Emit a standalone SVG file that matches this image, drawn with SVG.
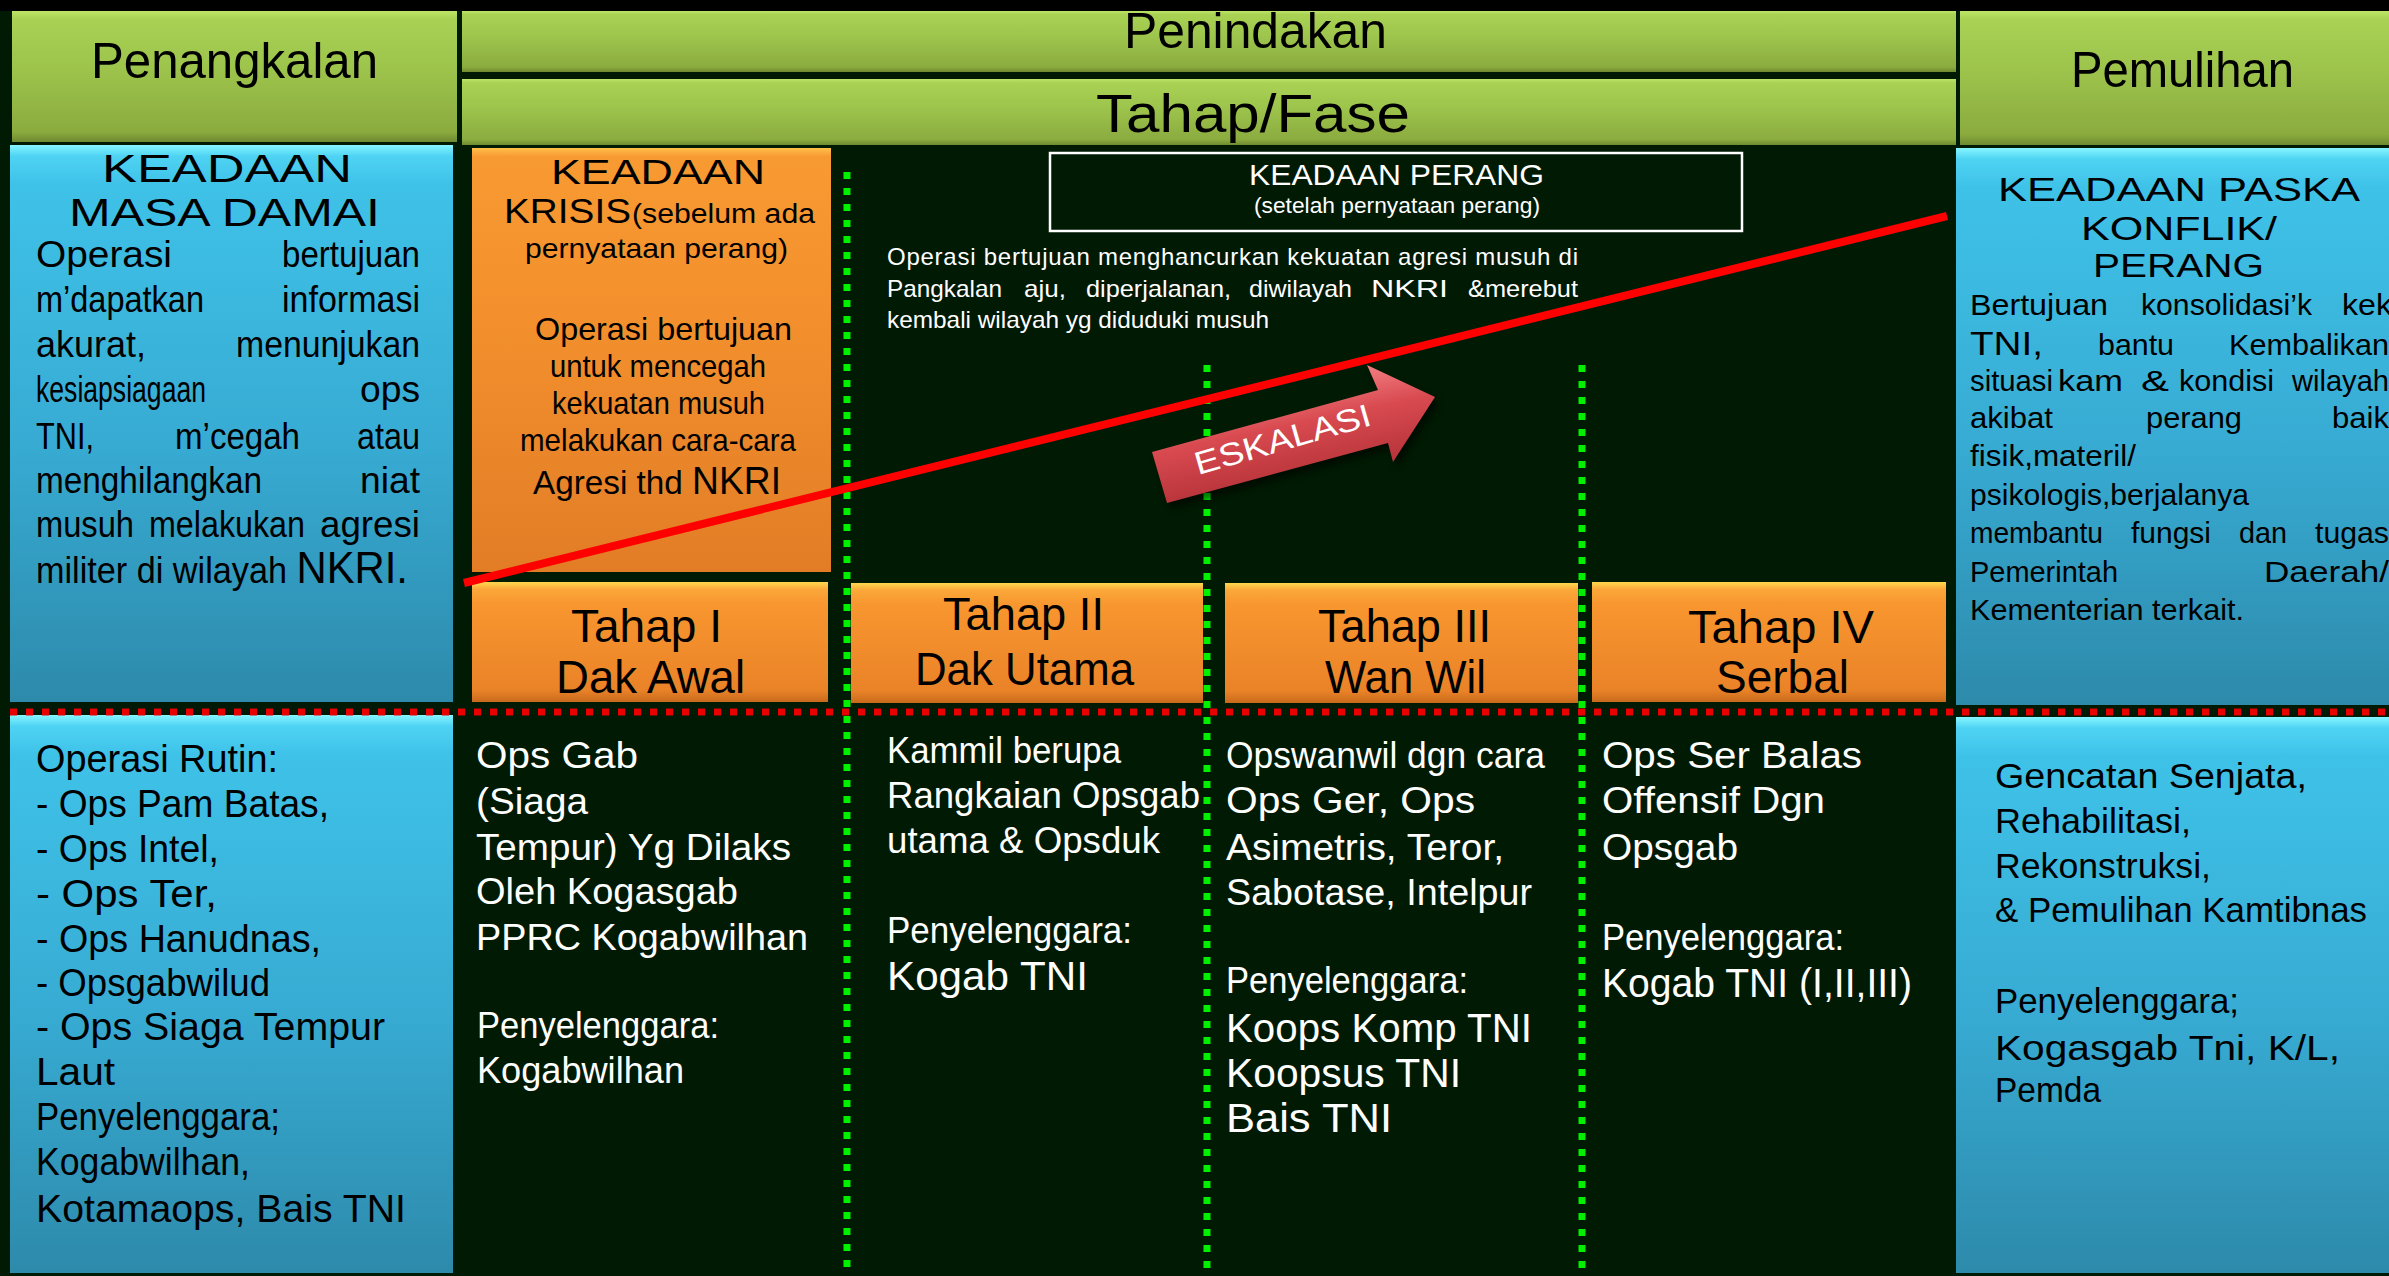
<svg xmlns="http://www.w3.org/2000/svg" width="2389" height="1276" viewBox="0 0 2389 1276">
<defs>
<style>
text{font-family:'Liberation Sans',Arial,sans-serif}
.k{fill:#000}
.w{fill:#fff}
.b36{font-size:36px}
.b30{font-size:30px}
.b38{font-size:38px}
.hd{font-size:50px}
.tp{font-size:46px}
</style>
<linearGradient id="gGreen" x1="0" y1="0" x2="0" y2="1">
<stop offset="0" stop-color="#bde466"/>
<stop offset="0.06" stop-color="#a9d254"/>
<stop offset="0.5" stop-color="#9bc14a"/>
<stop offset="0.92" stop-color="#8bab3f"/>
<stop offset="1" stop-color="#6f8a30"/>
</linearGradient>
<linearGradient id="gBlue" x1="0" y1="0" x2="0" y2="1">
<stop offset="0" stop-color="#86f6ff"/>
<stop offset="0.02" stop-color="#4fd3f3"/>
<stop offset="0.07" stop-color="#3fc2e8"/>
<stop offset="0.55" stop-color="#37aad2"/>
<stop offset="1" stop-color="#2d8aab"/>
</linearGradient>
<linearGradient id="gOrange" x1="0" y1="0" x2="0" y2="1">
<stop offset="0" stop-color="#ffd84e"/>
<stop offset="0.06" stop-color="#fba83a"/>
<stop offset="0.18" stop-color="#f8962f"/>
<stop offset="0.9" stop-color="#ea8328"/>
<stop offset="1" stop-color="#c86a1c"/>
</linearGradient>
<linearGradient id="gKrisis" x1="0" y1="0" x2="0" y2="1">
<stop offset="0" stop-color="#ffc04a"/>
<stop offset="0.02" stop-color="#f89a32"/>
<stop offset="0.4" stop-color="#f3902d"/>
<stop offset="1" stop-color="#e27d26"/>
</linearGradient>
<linearGradient id="gArrow" gradientUnits="userSpaceOnUse" x1="1290" y1="385" x2="1310" y2="480">
<stop offset="0" stop-color="#f07a7e"/>
<stop offset="0.4" stop-color="#d84a50"/>
<stop offset="1" stop-color="#b63339"/>
</linearGradient>
<filter id="sh" x="-10%" y="-20%" width="120%" height="140%">
<feGaussianBlur stdDeviation="3"/>
</filter>
</defs>

<rect x="0" y="0" width="2389" height="1276" fill="#011a03"/>
<rect x="0" y="0" width="2389" height="11" fill="#000"/>

<g id="penangkalan">
<rect x="12" y="11" width="445" height="131" fill="url(#gGreen)"/>
<text class="k hd" x="91" y="78" textLength="287" lengthAdjust="spacingAndGlyphs" font-size="52">Penangkalan</text>
</g>

<g id="penindakan">
<rect x="462" y="11" width="1494" height="61" fill="url(#gGreen)"/>
<text class="k hd" x="1124" y="48" textLength="263" lengthAdjust="spacingAndGlyphs">Penindakan</text>
</g>

<g id="tahap-fase">
<rect x="462" y="79" width="1494" height="66" fill="url(#gGreen)"/>
<text class="k" x="1096" y="132" font-size="54" textLength="314" lengthAdjust="spacingAndGlyphs">Tahap/Fase</text>
</g>

<g id="pemulihan">
<rect x="1960" y="11" width="429" height="134" fill="url(#gGreen)"/>
<text class="k hd" x="2071" y="87" textLength="223" lengthAdjust="spacingAndGlyphs">Pemulihan</text>
</g>

<g id="masa-damai">
<rect x="10" y="145" width="443" height="557" fill="url(#gBlue)"/>
<text class="k" font-size="38" x="102" y="182" textLength="250" lengthAdjust="spacingAndGlyphs">KEADAAN</text>
<text class="k" font-size="38" x="69" y="226" textLength="311" lengthAdjust="spacingAndGlyphs">MASA DAMAI</text>
<g class="k b36">
<text x="36" y="267" textLength="136" lengthAdjust="spacingAndGlyphs">Operasi</text>
<text x="282" y="267" textLength="138" lengthAdjust="spacingAndGlyphs">bertujuan</text>
<text x="36" y="312" textLength="168" lengthAdjust="spacingAndGlyphs">m’dapatkan</text>
<text x="282" y="312" textLength="138" lengthAdjust="spacingAndGlyphs">informasi</text>
<text x="36" y="357" textLength="110" lengthAdjust="spacingAndGlyphs">akurat,</text>
<text x="236" y="357" textLength="184" lengthAdjust="spacingAndGlyphs">menunjukan</text>
<text x="36" y="402" textLength="170" lengthAdjust="spacingAndGlyphs">kesiapsiagaan</text>
<text x="360" y="402" textLength="60" lengthAdjust="spacingAndGlyphs">ops</text>
<text x="36" y="449" textLength="58" lengthAdjust="spacingAndGlyphs">TNI,</text>
<text x="175" y="449" textLength="125" lengthAdjust="spacingAndGlyphs">m’cegah</text>
<text x="357" y="449" textLength="63" lengthAdjust="spacingAndGlyphs">atau</text>
<text x="36" y="493" textLength="226" lengthAdjust="spacingAndGlyphs">menghilangkan</text>
<text x="360" y="493" textLength="60" lengthAdjust="spacingAndGlyphs">niat</text>
<text x="36" y="537" textLength="98" lengthAdjust="spacingAndGlyphs">musuh</text>
<text x="149" y="537" textLength="156" lengthAdjust="spacingAndGlyphs">melakukan</text>
<text x="320" y="537" textLength="100" lengthAdjust="spacingAndGlyphs">agresi</text>
<text x="36" y="583" textLength="372" lengthAdjust="spacingAndGlyphs">militer di wilayah <tspan font-size="44">NKRI.</tspan></text>
</g>
</g>

<g id="krisis">
<rect x="472" y="148" width="359" height="424" fill="url(#gKrisis)"/>
<g class="k">
<text font-size="35" x="551" y="184" textLength="214" lengthAdjust="spacingAndGlyphs">KEADAAN</text>
<text font-size="35" x="504" y="223" textLength="127" lengthAdjust="spacingAndGlyphs">KRISIS</text>
<text font-size="27" x="632" y="223" textLength="183" lengthAdjust="spacingAndGlyphs">(sebelum ada</text>
<text font-size="28" x="525" y="258" textLength="263" lengthAdjust="spacingAndGlyphs">pernyataan perang)</text>
<text font-size="32" x="535" y="340" textLength="257" lengthAdjust="spacingAndGlyphs">Operasi bertujuan</text>
<text font-size="32" x="550" y="377" textLength="216" lengthAdjust="spacingAndGlyphs">untuk mencegah</text>
<text font-size="32" x="552" y="414" textLength="213" lengthAdjust="spacingAndGlyphs">kekuatan musuh</text>
<text font-size="32" x="520" y="451" textLength="276" lengthAdjust="spacingAndGlyphs">melakukan cara-cara</text>
<text font-size="34" x="533" y="494" textLength="248" lengthAdjust="spacingAndGlyphs">Agresi thd <tspan font-size="38">NKRI</tspan></text>
</g>
</g>

<g id="perang">
<rect x="1050" y="153" width="692" height="78" fill="none" stroke="#fff" stroke-width="2.5"/>
<text class="w" font-size="29" x="1249" y="185" textLength="295" lengthAdjust="spacingAndGlyphs">KEADAAN PERANG</text>
<text class="w" font-size="22" x="1254" y="213" textLength="286" lengthAdjust="spacingAndGlyphs">(setelah pernyataan perang)</text>
<g class="w" font-size="24">
<text x="887" y="265" textLength="691" lengthAdjust="spacing">Operasi bertujuan menghancurkan kekuatan agresi musuh di</text>
<text x="887" y="297" textLength="115" lengthAdjust="spacingAndGlyphs">Pangkalan</text>
<text x="1024" y="297" textLength="42" lengthAdjust="spacingAndGlyphs">aju,</text>
<text x="1086" y="297" textLength="145" lengthAdjust="spacingAndGlyphs">diperjalanan,</text>
<text x="1249" y="297" textLength="103" lengthAdjust="spacingAndGlyphs">diwilayah</text>
<text x="1371" y="297" textLength="77" lengthAdjust="spacingAndGlyphs">NKRI</text>
<text x="1468" y="297" textLength="110" lengthAdjust="spacingAndGlyphs">&amp;merebut</text>
<text x="887" y="328" textLength="382" lengthAdjust="spacingAndGlyphs">kembali wilayah yg diduduki musuh</text>
</g>
</g>

<g id="paska-konflik">
<rect x="1956" y="148" width="433" height="557" fill="url(#gBlue)"/>
<g class="k">
<text font-size="33" x="1998" y="201" textLength="362" lengthAdjust="spacingAndGlyphs">KEADAAN PASKA</text>
<text font-size="33" x="2081" y="240" textLength="196" lengthAdjust="spacingAndGlyphs">KONFLIK/</text>
<text font-size="33" x="2093" y="277" textLength="171" lengthAdjust="spacingAndGlyphs">PERANG</text>
</g>
<g class="k b30">
<text x="1970" y="315" textLength="138" lengthAdjust="spacingAndGlyphs">Bertujuan</text>
<text x="2141" y="315" textLength="171" lengthAdjust="spacingAndGlyphs">konsolidasi’k</text>
<text x="2342" y="315" textLength="50" lengthAdjust="spacingAndGlyphs">kek</text>
<text x="1970" y="355" textLength="73" lengthAdjust="spacingAndGlyphs" font-size="34">TNI,</text>
<text x="2098" y="355" textLength="76" lengthAdjust="spacingAndGlyphs">bantu</text>
<text x="2229" y="355" textLength="160" lengthAdjust="spacingAndGlyphs">Kembalikan</text>
<text x="1970" y="391" textLength="83" lengthAdjust="spacingAndGlyphs">situasi</text>
<text x="2058" y="391" textLength="65" lengthAdjust="spacingAndGlyphs">kam</text>
<text x="2141" y="391" textLength="28" lengthAdjust="spacingAndGlyphs">&amp;</text>
<text x="2179" y="391" textLength="95" lengthAdjust="spacingAndGlyphs">kondisi</text>
<text x="2292" y="391" textLength="97" lengthAdjust="spacingAndGlyphs">wilayah</text>
<text x="1970" y="428" textLength="83" lengthAdjust="spacingAndGlyphs">akibat</text>
<text x="2146" y="428" textLength="96" lengthAdjust="spacingAndGlyphs">perang</text>
<text x="2332" y="428" textLength="57" lengthAdjust="spacingAndGlyphs">baik</text>
<text x="1970" y="466" textLength="166" lengthAdjust="spacingAndGlyphs">fisik,materil/</text>
<text x="1970" y="505" textLength="279" lengthAdjust="spacingAndGlyphs">psikologis,berjalanya</text>
<text x="1970" y="543" textLength="133" lengthAdjust="spacingAndGlyphs">membantu</text>
<text x="2131" y="543" textLength="80" lengthAdjust="spacingAndGlyphs">fungsi</text>
<text x="2239" y="543" textLength="48" lengthAdjust="spacingAndGlyphs">dan</text>
<text x="2315" y="543" textLength="74" lengthAdjust="spacingAndGlyphs">tugas</text>
<text x="1970" y="582" textLength="148" lengthAdjust="spacingAndGlyphs">Pemerintah</text>
<text x="2264" y="582" textLength="125" lengthAdjust="spacingAndGlyphs">Daerah/</text>
<text x="1970" y="620" textLength="274" lengthAdjust="spacingAndGlyphs">Kementerian terkait.</text>
</g>
</g>

<g id="tahap1">
<rect x="472" y="582" width="356" height="120" fill="url(#gOrange)"/>
<text class="k tp" x="571" y="642" textLength="151" lengthAdjust="spacingAndGlyphs">Tahap I</text>
<text class="k tp" x="556" y="693" textLength="189" lengthAdjust="spacingAndGlyphs">Dak Awal</text>
</g>
<g id="tahap2">
<rect x="851" y="583" width="352" height="120" fill="url(#gOrange)"/>
<text class="k tp" x="943" y="630" textLength="161" lengthAdjust="spacingAndGlyphs">Tahap II</text>
<text class="k tp" x="915" y="685" textLength="219" lengthAdjust="spacingAndGlyphs">Dak Utama</text>
</g>
<g id="tahap3">
<rect x="1225" y="583" width="353" height="120" fill="url(#gOrange)"/>
<text class="k tp" x="1318" y="642" textLength="173" lengthAdjust="spacingAndGlyphs">Tahap III</text>
<text class="k tp" x="1325" y="693" textLength="161" lengthAdjust="spacingAndGlyphs">Wan Wil</text>
</g>
<g id="tahap4">
<rect x="1592" y="582" width="354" height="120" fill="url(#gOrange)"/>
<text class="k tp" x="1688" y="643" textLength="186" lengthAdjust="spacingAndGlyphs">Tahap IV</text>
<text class="k tp" x="1716" y="693" textLength="133" lengthAdjust="spacingAndGlyphs">Serbal</text>
</g>

<g id="ops-rutin">
<rect x="10" y="715" width="443" height="558" fill="url(#gBlue)"/>
<g class="k b38">
<text x="36" y="772" textLength="242" lengthAdjust="spacingAndGlyphs">Operasi Rutin:</text>
<text x="36" y="817" textLength="293" lengthAdjust="spacingAndGlyphs">- Ops Pam Batas,</text>
<text x="36" y="862" textLength="183" lengthAdjust="spacingAndGlyphs">- Ops Intel,</text>
<text x="36" y="907" textLength="181" lengthAdjust="spacingAndGlyphs">- Ops Ter,</text>
<text x="36" y="952" textLength="285" lengthAdjust="spacingAndGlyphs">- Ops Hanudnas,</text>
<text x="36" y="996" textLength="234" lengthAdjust="spacingAndGlyphs">- Opsgabwilud</text>
<text x="36" y="1040" textLength="349" lengthAdjust="spacingAndGlyphs">- Ops Siaga Tempur</text>
<text x="36" y="1085" textLength="79" lengthAdjust="spacingAndGlyphs">Laut</text>
<text x="36" y="1130" textLength="244" lengthAdjust="spacingAndGlyphs">Penyelenggara;</text>
<text x="36" y="1175" textLength="214" lengthAdjust="spacingAndGlyphs">Kogabwilhan,</text>
<text x="36" y="1222" textLength="370" lengthAdjust="spacingAndGlyphs">Kotamaops, Bais TNI</text>
</g>
</g>

<g id="tahap1-isi" class="w" font-size="37">
<text x="476" y="768" textLength="162" lengthAdjust="spacingAndGlyphs">Ops Gab</text>
<text x="476" y="814" textLength="112" lengthAdjust="spacingAndGlyphs">(Siaga</text>
<text x="476" y="860" textLength="315" lengthAdjust="spacingAndGlyphs">Tempur) Yg Dilaks</text>
<text x="476" y="904" textLength="262" lengthAdjust="spacingAndGlyphs">Oleh Kogasgab</text>
<text x="476" y="950" textLength="332" lengthAdjust="spacingAndGlyphs">PPRC Kogabwilhan</text>
<text x="477" y="1038" textLength="242" lengthAdjust="spacingAndGlyphs">Penyelenggara:</text>
<text x="477" y="1083" textLength="207" lengthAdjust="spacingAndGlyphs">Kogabwilhan</text>
</g>

<g id="tahap2-isi" class="w b36">
<text x="887" y="763" textLength="234" lengthAdjust="spacingAndGlyphs">Kammil berupa</text>
<text x="887" y="808" textLength="313" lengthAdjust="spacingAndGlyphs">Rangkaian Opsgab</text>
<text x="887" y="853" textLength="273" lengthAdjust="spacingAndGlyphs">utama &amp; Opsduk</text>
<text x="887" y="943" textLength="245" lengthAdjust="spacingAndGlyphs">Penyelenggara:</text>
<text x="887" y="990" textLength="201" lengthAdjust="spacingAndGlyphs" font-size="40">Kogab TNI</text>
</g>

<g id="tahap3-isi" class="w b36">
<text x="1226" y="768" textLength="319" lengthAdjust="spacingAndGlyphs">Opswanwil dgn cara</text>
<text x="1226" y="813" textLength="249" lengthAdjust="spacingAndGlyphs">Ops Ger, Ops</text>
<text x="1226" y="860" textLength="278" lengthAdjust="spacingAndGlyphs">Asimetris, Teror,</text>
<text x="1226" y="905" textLength="306" lengthAdjust="spacingAndGlyphs">Sabotase, Intelpur</text>
<text x="1226" y="993" textLength="242" lengthAdjust="spacingAndGlyphs">Penyelenggara:</text>
<text x="1226" y="1042" textLength="306" lengthAdjust="spacingAndGlyphs" font-size="40">Koops Komp TNI</text>
<text x="1226" y="1087" textLength="235" lengthAdjust="spacingAndGlyphs" font-size="40">Koopsus TNI</text>
<text x="1226" y="1132" textLength="166" lengthAdjust="spacingAndGlyphs" font-size="40">Bais TNI</text>
</g>

<g id="tahap4-isi" class="w b36">
<text x="1602" y="768" textLength="260" lengthAdjust="spacingAndGlyphs">Ops Ser Balas</text>
<text x="1602" y="813" textLength="223" lengthAdjust="spacingAndGlyphs">Offensif Dgn</text>
<text x="1602" y="860" textLength="136" lengthAdjust="spacingAndGlyphs">Opsgab</text>
<text x="1602" y="950" textLength="242" lengthAdjust="spacingAndGlyphs">Penyelenggara:</text>
<text x="1602" y="997" textLength="310" lengthAdjust="spacingAndGlyphs" font-size="40">Kogab TNI (I,II,III)</text>
</g>

<g id="pemulihan-isi">
<rect x="1956" y="717" width="433" height="556" fill="url(#gBlue)"/>
<g class="k" font-size="35">
<text x="1995" y="788" textLength="312" lengthAdjust="spacingAndGlyphs">Gencatan Senjata,</text>
<text x="1995" y="833" textLength="196" lengthAdjust="spacingAndGlyphs">Rehabilitasi,</text>
<text x="1995" y="878" textLength="216" lengthAdjust="spacingAndGlyphs">Rekonstruksi,</text>
<text x="1995" y="922" textLength="372" lengthAdjust="spacingAndGlyphs">&amp; Pemulihan Kamtibnas</text>
<text x="1995" y="1013" textLength="244" lengthAdjust="spacingAndGlyphs">Penyelenggara;</text>
<text x="1995" y="1060" textLength="345" lengthAdjust="spacingAndGlyphs">Kogasgab Tni, K/L,</text>
<text x="1995" y="1102" textLength="106" lengthAdjust="spacingAndGlyphs">Pemda</text>
</g>
</g>

<g id="connectors">
<line x1="10" y1="712" x2="2389" y2="712" stroke="#e60000" stroke-width="7" stroke-dasharray="7 9"/>
<line x1="847" y1="172" x2="847" y2="1276" stroke="#00f000" stroke-width="7" stroke-dasharray="7 9"/>
<line x1="1207" y1="365" x2="1207" y2="1276" stroke="#00f000" stroke-width="7" stroke-dasharray="7 9"/>
<line x1="1582" y1="365" x2="1582" y2="1276" stroke="#00f000" stroke-width="7" stroke-dasharray="7 9"/>
<line x1="464" y1="583" x2="1947" y2="216" stroke="#ff0000" stroke-width="8"/>
</g>

<g id="eskalasi">
<polygon points="1156,458 1382,396 1371,371 1439,403 1397,468 1392,449 1171,509" fill="#000" opacity="0.5" filter="url(#sh)"/>
<polygon points="1152,452 1378,390 1367,365 1435,397 1393,462 1388,443 1167,503" fill="url(#gArrow)"/>
<text class="w" font-size="32" x="1198" y="475" textLength="182" lengthAdjust="spacingAndGlyphs" transform="rotate(-16 1198 475)">ESKALASI</text>
</g>
</svg>
